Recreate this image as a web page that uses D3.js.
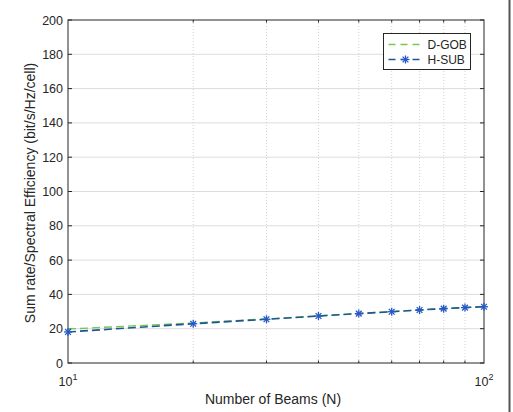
<!DOCTYPE html>
<html>
<head>
<meta charset="utf-8">
<script src="https://d3js.org/d3.v7.min.js"></script>
<style>
  body { margin: 0; background: #fff; }
  svg { display: block; font-family: "Liberation Sans", Arial, sans-serif; }
</style>
</head>
<body>
<div id="chart"></div>
<script>
// Chart data
const beams = [10, 20, 30, 40, 50, 60, 70, 80, 90, 100];
const dGob = [19.8, 23.3, 25.7, 27.5, 28.9, 30.0, 31.0, 31.8, 32.4, 33.0];
const hSub = [18.1, 22.9, 25.5, 27.4, 28.8, 29.9, 30.9, 31.7, 32.3, 32.8];
const yTicks = [0, 20, 40, 60, 80, 100, 120, 140, 160, 180, 200];
const seriesNames = ['D-GOB', 'H-SUB'];

const W = 513, H = 412;
const m = { left: 68, right: 29, top: 20, bottom: 49 };
const iw = W - m.left - m.right, ih = H - m.top - m.bottom;

const svg = d3.select('#chart').append('svg').attr('width', W).attr('height', H);

// frame line at right side of the picture
svg.append('line').attr('x1', 509.5).attr('x2', 509.5).attr('y1', 0).attr('y2', H)
  .attr('stroke', '#555').attr('stroke-width', 2);

const x = d3.scaleLog().domain([10, 100]).range([m.left, m.left + iw]);
const y = d3.scaleLinear().domain([0, 200]).range([m.top + ih, m.top]);

const g = svg.append('g');

// horizontal grid
g.selectAll('.hg').data(yTicks.slice(1, -1)).join('line')
  .attr('x1', m.left).attr('x2', m.left + iw)
  .attr('y1', d => y(d)).attr('y2', d => y(d))
  .attr('stroke', '#dcdcdc').attr('stroke-width', 1);

// minor vertical grid (dotted)
const minor = beams.slice(1, -1);
g.selectAll('.vg').data(minor).join('line')
  .attr('x1', d => x(d)).attr('x2', d => x(d))
  .attr('y1', m.top).attr('y2', m.top + ih)
  .attr('stroke', '#d4d4d4').attr('stroke-width', 1)
  .attr('stroke-dasharray', '1,2');

// box
g.append('rect').attr('x', m.left).attr('y', m.top).attr('width', iw).attr('height', ih)
  .attr('fill', 'none').attr('stroke', '#262626').attr('stroke-width', 1);

// ticks (inside)
yTicks.forEach(t => {
  g.append('line').attr('x1', m.left).attr('x2', m.left + 4).attr('y1', y(t)).attr('y2', y(t)).attr('stroke', '#262626');
  g.append('line').attr('x1', m.left + iw).attr('x2', m.left + iw - 4).attr('y1', y(t)).attr('y2', y(t)).attr('stroke', '#262626');
  g.append('text').attr('x', m.left - 5).attr('y', y(t)).attr('dy', '0.36em')
    .attr('text-anchor', 'end').attr('font-size', 12.5).attr('fill', '#262626').text(t);
});
minor.forEach(t => {
  g.append('line').attr('x1', x(t)).attr('x2', x(t)).attr('y1', m.top + ih).attr('y2', m.top + ih - 2.5).attr('stroke', '#262626');
  g.append('line').attr('x1', x(t)).attr('x2', x(t)).attr('y1', m.top).attr('y2', m.top + 2.5).attr('stroke', '#262626');
});

// x tick labels 10^1, 10^2
[[10, '1'], [100, '2']].forEach(([v, e]) => {
  const t = g.append('text').attr('x', x(v)).attr('y', 386)
    .attr('text-anchor', 'middle').attr('font-size', 12.5).attr('fill', '#262626');
  t.append('tspan').text('10');
  t.append('tspan').attr('dy', -6).attr('font-size', 9).text(e);
});

// axis labels
svg.append('text').attr('x', 273).attr('y', 404).attr('text-anchor', 'middle')
  .attr('font-size', 14).attr('fill', '#262626').text('Number of Beams (N)');
svg.append('text').attr('transform', 'translate(35,193) rotate(-90)')
  .attr('text-anchor', 'middle').attr('font-size', 14).attr('fill', '#262626')
  .text('Sum rate/Spectral Efficiency (bit/s/Hz/cell)');

const line = d3.line().x(d => x(d[0])).y(d => y(d[1]));
const green = '#77c84f', blue = '#1f5596', marker = '#2458c8';

g.append('path').datum(beams.map((b, i) => [b, dGob[i]])).attr('d', line)
  .attr('fill', 'none').attr('stroke', green).attr('stroke-width', 1.4).attr('stroke-dasharray', '8,4');
g.append('path').datum(beams.map((b, i) => [b, hSub[i]])).attr('d', line)
  .attr('fill', 'none').attr('stroke', blue).attr('stroke-width', 1.6).attr('stroke-dasharray', '8,4');

function star(sel, cx, cy, r) {
  const s = sel.append('g').attr('transform', 'translate(' + cx + ',' + cy + ')')
    .attr('stroke', marker).attr('stroke-width', 1.3);
  s.append('line').attr('x1', -r).attr('x2', r).attr('y1', 0).attr('y2', 0);
  s.append('line').attr('x1', 0).attr('x2', 0).attr('y1', -r).attr('y2', r);
  const d = r * 0.72;
  s.append('line').attr('x1', -d).attr('x2', d).attr('y1', -d).attr('y2', d);
  s.append('line').attr('x1', -d).attr('x2', d).attr('y1', d).attr('y2', -d);
}
beams.forEach((b, i) => star(g, x(b), y(hSub[i]), 4));

// legend
const lg = svg.append('g').attr('transform', 'translate(383.5,33.5)');
lg.append('rect').attr('width', 87).attr('height', 36).attr('fill', '#fff')
  .attr('stroke', '#262626').attr('stroke-width', 1);
const lcol = [green, blue];
seriesNames.forEach((n, i) => {
  const yy = 11 + i * 15;
  lg.append('line').attr('x1', 5).attr('x2', 39).attr('y1', yy).attr('y2', yy)
    .attr('stroke', lcol[i]).attr('stroke-width', i ? 1.6 : 1.4).attr('stroke-dasharray', '7,5');
  if (i === 1) star(lg, 22, yy, 4);
  lg.append('text').attr('x', 44).attr('y', yy).attr('dy', '0.36em').attr('font-size', 12)
    .attr('fill', '#262626').text(n);
});
</script>
</body>
</html>
